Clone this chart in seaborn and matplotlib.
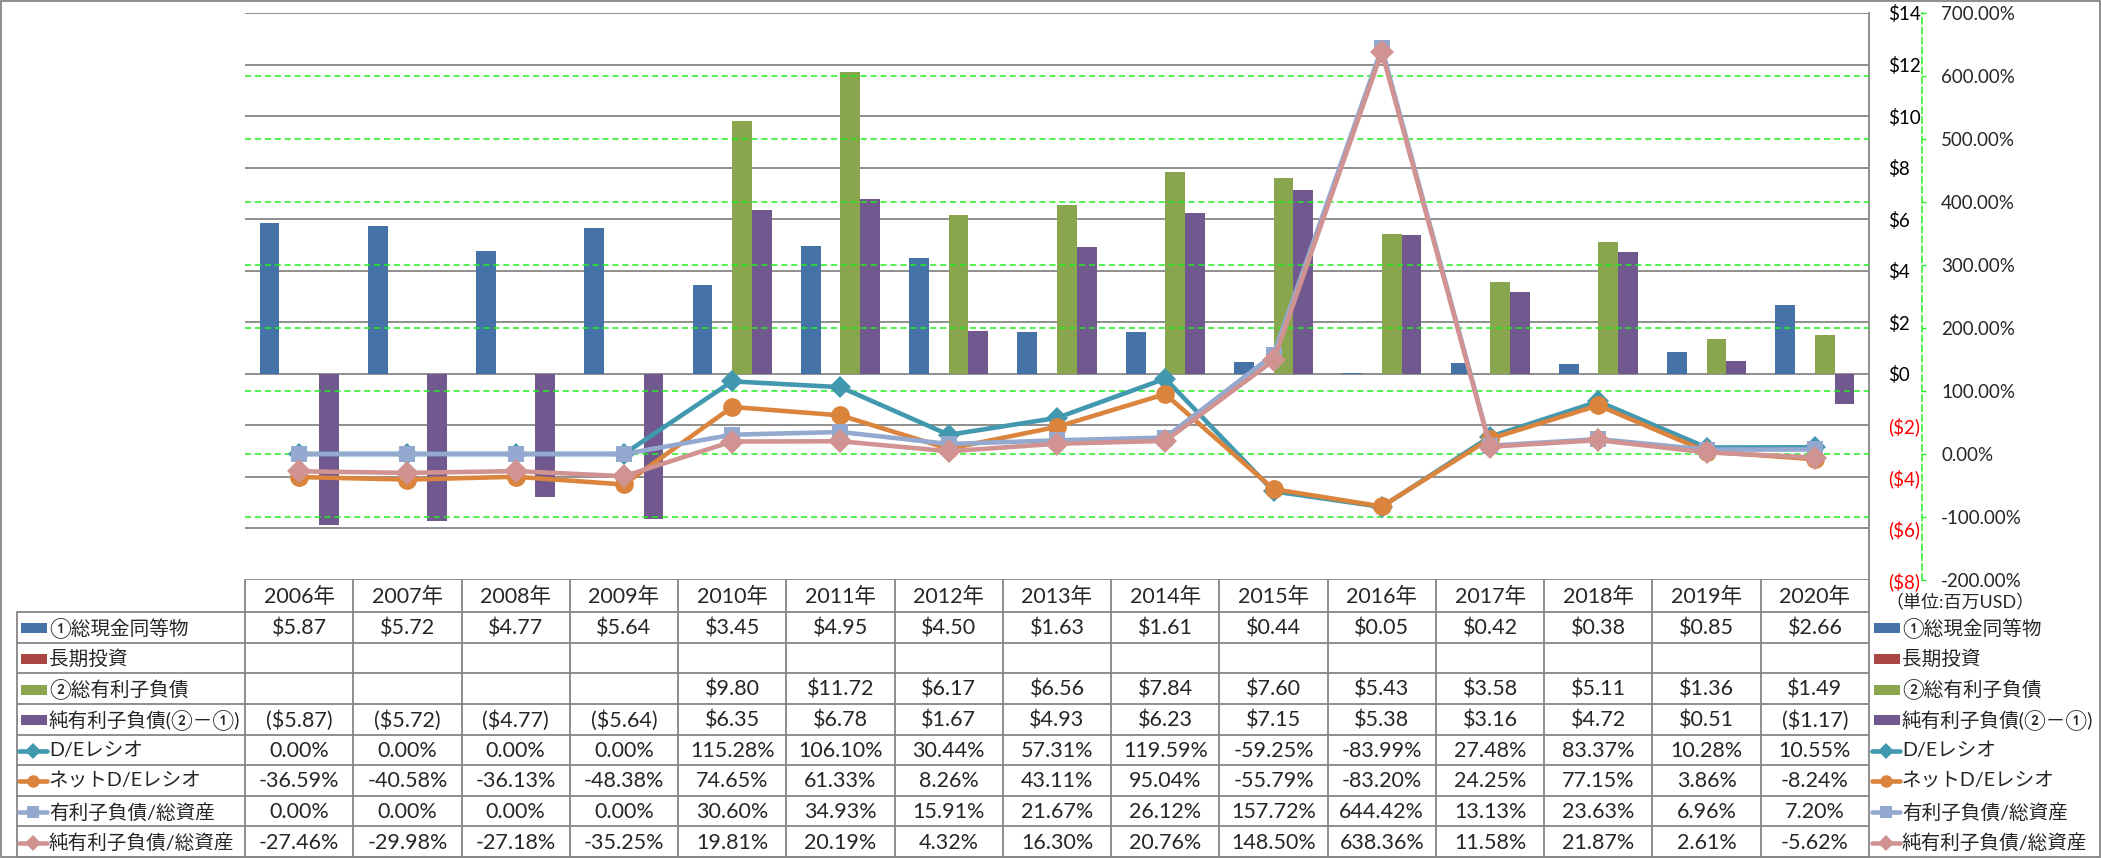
import numpy as np
import pandas as pd
import matplotlib
matplotlib.use("Agg")
import matplotlib.pyplot as plt
import matplotlib.transforms as mtrans
from matplotlib.patches import Rectangle
from matplotlib.lines import Line2D
import seaborn as sns

# ------------------------------
# DATA (read from the data table)
# ------------------------------
years = ["2006年", "2007年", "2008年", "2009年", "2010年", "2011年", "2012年", "2013年",
         "2014年", "2015年", "2016年", "2017年", "2018年", "2019年", "2020年"]

cash = [5.87, 5.72, 4.77, 5.64, 3.45, 4.95, 4.50, 1.63, 1.61, 0.44, 0.05, 0.42, 0.38, 0.85, 2.66]
long_inv = [np.nan] * 15
debt = [np.nan, np.nan, np.nan, np.nan, 9.80, 11.72, 6.17, 6.56, 7.84, 7.60, 5.43, 3.58, 5.11, 1.36, 1.49]
net_debt = [-5.87, -5.72, -4.77, -5.64, 6.35, 6.78, 1.67, 4.93, 6.23, 7.15, 5.38, 3.16, 4.72, 0.51, -1.17]

de_ratio = [0.00, 0.00, 0.00, 0.00, 115.28, 106.10, 30.44, 57.31, 119.59, -59.25, -83.99, 27.48, 83.37, 10.28, 10.55]
net_de_ratio = [-36.59, -40.58, -36.13, -48.38, 74.65, 61.33, 8.26, 43.11, 95.04, -55.79, -83.20, 24.25, 77.15, 3.86, -8.24]
debt_assets = [0.00, 0.00, 0.00, 0.00, 30.60, 34.93, 15.91, 21.67, 26.12, 157.72, 644.42, 13.13, 23.63, 6.96, 7.20]
net_debt_assets = [-27.46, -29.98, -27.18, -35.25, 19.81, 20.19, 4.32, 16.30, 20.76, 148.50, 638.36, 11.58, 21.87, 2.61, -5.62]

bar_names = ["①総現金同等物", "長期投資", "②総有利子負債", "純有利子負債(②－①)"]
line_names = ["D/Eレシオ", "ネットD/Eレシオ", "有利子負債/総資産", "純有利子負債/総資産"]

dollar_ticks = [-8, -6, -4, -2, 0, 2, 4, 6, 8, 10, 12, 14]
pct_ticks = [-200, -100, 0, 100, 200, 300, 400, 500, 600, 700]

# ------------------------------
# STYLE
# ------------------------------
bar_colors = ["#4572A7", "#AA4643", "#89A54E", "#71588F"]
line_colors = ["#4198AF", "#DB843D", "#93A9CF", "#D19392"]
line_markers = ["D", "o", "s", "D"]
line_ms = [11.5, 13.5, 12, 12]
key_ms = [8, 9, 8.5, 8]
grid_gray = "#868686"
green = "#22EE22"

sns.set_theme(style="white")
plt.rcParams["font.family"] = ["Lato", "Noto Sans CJK JP", "DejaVu Sans"]


def money(v):
    if np.isnan(v):
        return ""
    return f"${v:.2f}" if v >= 0 else f"(${-v:.2f})"


def pct(v):
    return f"{v:.2f}%"


# ------------------------------
# FIGURE / AXES (pixel layout)
# ------------------------------
W, H = 2101, 858
PL, PR, PT, PB = 245, 1869, 13, 580

fig = plt.figure(figsize=(W / 100, H / 100), dpi=100)
fig.patch.set_facecolor("white")
ax = fig.add_axes([PL / W, 1 - PB / H, (PR - PL) / W, (PB - PT) / H])

# bars
bars = pd.DataFrame({"year": years, bar_names[0]: cash, bar_names[1]: long_inv,
                     bar_names[2]: debt, bar_names[3]: net_debt})
bars = bars.melt(id_vars="year", var_name="series", value_name="value").dropna()

sns.barplot(data=bars, x="year", y="value", hue="series", order=years,
            hue_order=bar_names, palette=dict(zip(bar_names, bar_colors)),
            width=0.73, errorbar=None, saturation=1, linewidth=0,
            legend=False, ax=ax)

ax2 = ax.twinx()

ax.set_xlim(-0.5, len(years) - 0.5)
ax.set_ylim(-8, 14)
ax.set_xticks([])
ax.set_xlabel("")
ax.set_ylabel("")
ax.yaxis.tick_right()
ax.set_yticks(dollar_ticks)
ax.set_yticklabels([f"${t}" if t >= 0 else f"(${-t})" for t in dollar_ticks])
ax.tick_params(axis="y", length=0, pad=14, labelsize=13.5)
for lbl, t in zip(ax.get_yticklabels(), dollar_ticks):
    lbl.set_color("red" if t < 0 else "black")
ax.grid(axis="y", color=grid_gray, lw=1.3)
ax.set_axisbelow(True)
for s in ["left", "top", "bottom"]:
    ax.spines[s].set_visible(False)
ax.spines["right"].set_color(grid_gray)
ax.spines["right"].set_linewidth(1.3)

# percentage lines
xpos = np.arange(len(years))
ax2.set_ylim(-200, 700)
for t in pct_ticks[1:-1]:
    ax2.axhline(t, color=green, lw=1.1, ls=(0, (4, 2.5)), zorder=0.5)

series = [de_ratio, net_de_ratio, debt_assets, net_debt_assets]
for vals, c, m, ms in zip(series, line_colors, line_markers, line_ms):
    ax2.plot(xpos, vals, color=c, lw=3.3, marker=m, ms=ms, mfc=c, mec=c, mew=0,
             solid_joinstyle="round", solid_capstyle="round", zorder=3)

ax2.set_yticks(pct_ticks)
ax2.set_yticklabels([pct(t) for t in pct_ticks])
ax2.tick_params(axis="y", length=3, width=1, color=green, pad=11, labelsize=13.5)
for lbl, t in zip(ax2.get_yticklabels(), pct_ticks):
    lbl.set_color("red" if t < 0 else "black")
for s in ["left", "top", "bottom"]:
    ax2.spines[s].set_visible(False)
ax2.spines["right"].set_position(("outward", 38))
ax2.spines["right"].set_color(green)
ax2.spines["right"].set_linestyle((0, (4, 2.5)))
ax2.spines["right"].set_linewidth(1.1)
ax2.set_ylabel("")

# ------------------------------
# DATA TABLE + LEGEND KEYS
# ------------------------------
tab = fig.add_axes([0, 0, 1, 1])
tab.set_xlim(0, W)
tab.set_ylim(H, 0)
tab.axis("off")
bt = mtrans.blended_transform_factory(ax.transData, tab.transData)

hdr_top, hdr_bot, tab_bot = 580, 612, 857
row_h = (tab_bot - hdr_bot) / 8
row_top = [hdr_bot + i * row_h for i in range(9)]
lab_left = 17

# vertical column lines
for k in range(len(years) + 1):
    tab.add_line(Line2D([k - 0.5, k - 0.5], [hdr_top, tab_bot], transform=bt,
                        color=grid_gray, lw=1.3))
tab.add_line(Line2D([lab_left, lab_left], [hdr_bot, tab_bot], color=grid_gray, lw=1.3))
for y in row_top:
    tab.add_line(Line2D([lab_left, PR], [y, y], color=grid_gray, lw=1.3))

# header
for i, yr in enumerate(years):
    tab.text(i, (hdr_top + hdr_bot) / 2 + 1, yr, transform=bt, ha="center", va="center", fontsize=15.5)

rows = [
    [money(v) for v in cash],
    [money(v) for v in long_inv],
    [money(v) for v in debt],
    [money(v) for v in net_debt],
    [pct(v) for v in de_ratio],
    [pct(v) for v in net_de_ratio],
    [pct(v) for v in debt_assets],
    [pct(v) for v in net_debt_assets],
]
labels = bar_names + line_names

for r, (vals, name) in enumerate(zip(rows, labels)):
    yc = row_top[r] + row_h / 2 + 1
    for i, txt in enumerate(vals):
        tab.text(i, yc, txt, transform=bt, ha="center", va="center", fontsize=15.5)
    for x0 in (21, 1874):
        if r < 4:
            tab.add_patch(Rectangle((x0, yc - 5), 26, 10, color=bar_colors[r], lw=0))
        else:
            c = line_colors[r - 4]
            tab.add_line(Line2D([x0 - 2, x0 + 26], [yc, yc], color=c, lw=3.3))
            tab.add_line(Line2D([x0 + 12], [yc], color=c, marker=line_markers[r - 4],
                                ms=key_ms[r - 4], mew=0))
        tab.text(x0 + 28, yc, name, ha="left", va="center", fontsize=14.1)

tab.text(1885, 603, "（単位:百万USD）", ha="left", va="center", fontsize=13)

# outer frame
tab.add_patch(Rectangle((0.5, 0.5), W - 1.5, H - 1.5, fill=False, ec=grid_gray, lw=1.3))

fig.savefig("out.png", dpi=100)
